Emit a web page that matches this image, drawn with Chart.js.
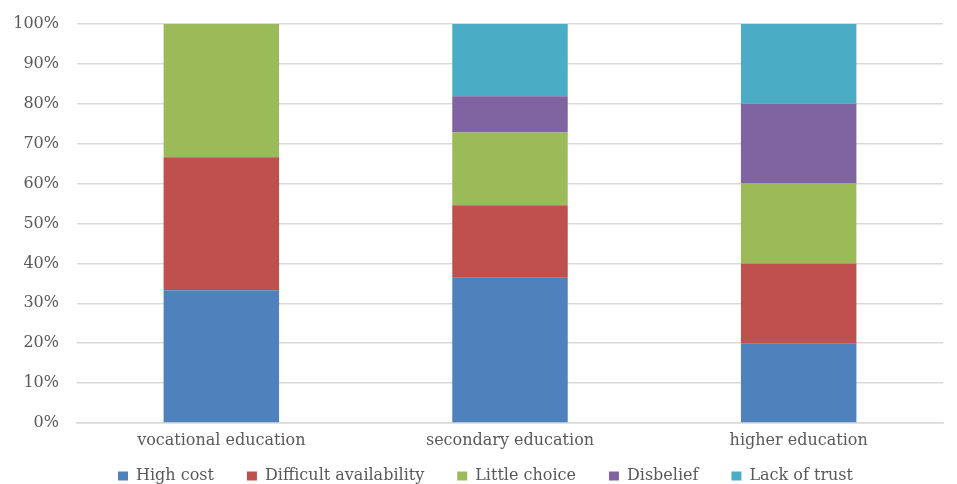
<!DOCTYPE html>
<html>
<head>
<meta charset="utf-8">
<script src="https://cdn.jsdelivr.net/npm/chart.js@4/dist/chart.umd.min.js"></script>
<style>
  html, body { margin: 0; padding: 0; background: #fff; }
  #wrap { width: 957px; height: 484px; }
</style>
</head>
<body>
<div id="wrap"><canvas id="reasonsChart" width="957" height="484"></canvas></div>
<script>
// Education levels along the x axis
const levels = ['vocational education', 'secondary education', 'higher education'];

// Share of each reason per level (percent)
const highCost = [33.3, 36.4, 20];
const difficultAvailability = [33.3, 18.2, 20];
const littleChoice = [33.4, 18.2, 20];
const disbelief = [0, 9.1, 20];
const lackOfTrust = [0, 18.1, 20];

const yTicks = [0, 10, 20, 30, 40, 50, 60, 70, 80, 90, 100];

const serif = "'DejaVu Serif', 'Liberation Serif', serif";

// legend sits a bit right of centre; x labels may run into the legend band
const layoutTweaks = {
    id: 'layoutTweaks',
    afterLayout(chart) {
        if (chart.legend) {
            chart.legend.left += 14;
            chart.legend.right += 14;
        }
        chart.scales.x.bottom = chart.height;
    }
};

const ctx = document.getElementById('reasonsChart').getContext('2d');

const chart = new Chart(ctx, {
    type: 'bar',
    data: {
        labels: levels,
        datasets: [
            { label: 'High cost', data: highCost, backgroundColor: '#4F81BD' },
            { label: 'Difficult availability', data: difficultAvailability, backgroundColor: '#C0504D' },
            { label: 'Little choice', data: littleChoice, backgroundColor: '#9BBB59' },
            { label: 'Disbelief', data: disbelief, backgroundColor: '#8064A2' },
            { label: 'Lack of trust', data: lackOfTrust, backgroundColor: '#4BACC6' }
        ]
    },
    plugins: [layoutTweaks],
    options: {
        responsive: false,
        animation: false,
        layout: {
            padding: { left: 0, right: 14, top: 24, bottom: -10 }
        },
        datasets: {
            bar: {
                categoryPercentage: 1,
                barPercentage: 0.4,
                borderWidth: 0
            }
        },
        scales: {
            x: {
                stacked: true,
                grid: { display: false, drawTicks: false },
                border: { color: '#d9d9d9', width: 1.5 },
                ticks: {
                    color: '#595959',
                    padding: 8,
                    font: { family: serif, size: 16 }
                },
                afterFit: function (scale) { scale.height = 12; }
            },
            y: {
                stacked: true,
                min: 0,
                max: 100,
                afterBuildTicks: function (scale) {
                    scale.ticks = yTicks.map(v => ({ value: v }));
                },
                grid: { color: '#d9d9d9', lineWidth: 1.5, drawTicks: false },
                border: { display: false },
                ticks: {
                    color: '#595959',
                    padding: 18,
                    font: { family: serif, size: 16 },
                    callback: v => v + '%'
                },
                afterFit: function (scale) {
                    scale.width = 77;
                    scale.paddingTop = 0;
                    scale.paddingBottom = 0;
                }
            }
        },
        plugins: {
            tooltip: { enabled: false },
            legend: {
                position: 'bottom',
                labels: {
                    color: '#595959',
                    boxWidth: 10,
                    boxHeight: 9,
                    padding: 33,
                    font: { family: serif, size: 16 }
                }
            }
        }
    }
});
</script>
</body>
</html>
